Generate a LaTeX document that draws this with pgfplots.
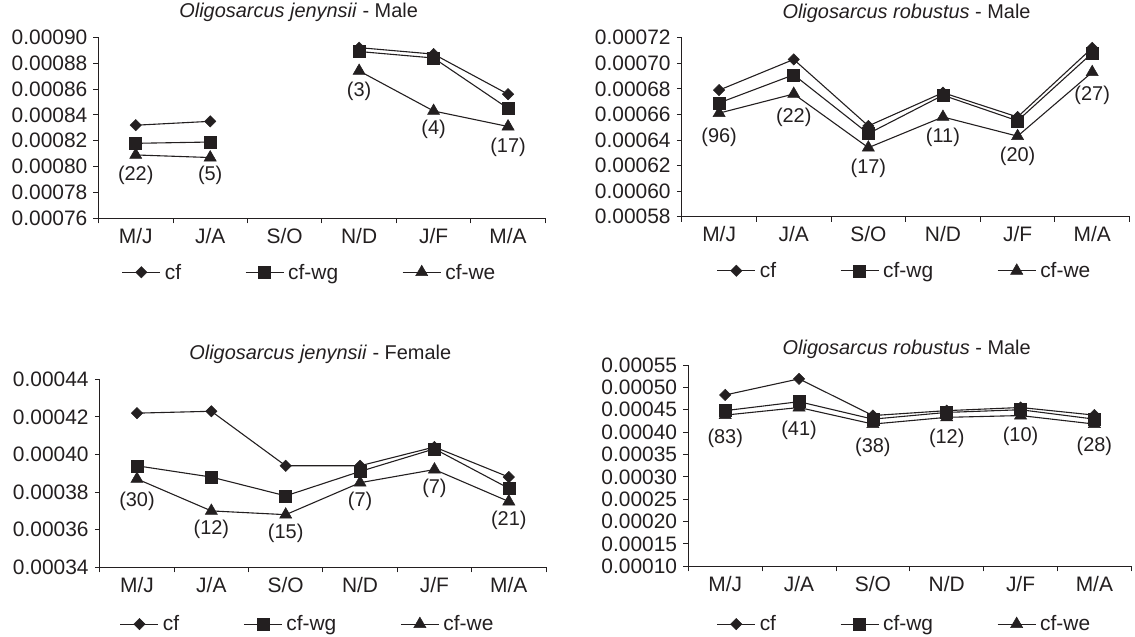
\documentclass[border=0pt]{standalone}
\usepackage{pgfplots}
\pgfplotsset{compat=1.18}
\usepackage{pgfplotstable}
\usepackage{fontspec}
\setmainfont{Liberation Sans}
\definecolor{ink}{RGB}{35,31,32}

\pgfplotstableread{
x cf cfwg cfwe
0 0.000832 0.000818 0.000809
1 0.000835 0.000819 0.000807
2 nan nan nan
3 0.000892 0.000889 0.000874
4 0.000887 0.000884 0.000843
5 0.000856 0.000845 0.000831
}\jenM
\pgfplotstableread{
x cf cfwg cfwe
0 0.000679 0.000669 0.000661
1 0.000703 0.000691 0.000676
2 0.000651 0.000645 0.000634
3 0.000677 0.000675 0.000658
4 0.000658 0.000655 0.000643
5 0.000712 0.000708 0.000693
}\robM
\pgfplotstableread{
x cf cfwg cfwe
0 0.000422 0.000394 0.000387
1 0.000423 0.000388 0.000370
2 0.000394 0.000378 0.000368
3 0.000394 0.000391 0.000385
4 0.000404 0.000403 0.000392
5 0.000388 0.000382 0.000375
}\jenF
\pgfplotstableread{
x cf cfwg cfwe
0 0.000483 0.000448 0.000438
1 0.000519 0.000468 0.000455
2 0.000437 0.000429 0.000418
3 0.000448 0.000444 0.000433
4 0.000455 0.000450 0.000437
5 0.000438 0.000429 0.000418
}\robMb

\pgfplotsset{
  panel/.style={
    scale only axis,
    axis x line=bottom, axis y line=left,
    axis line style={-, ink, line width=0.9bp},
    xmin=-0.5, xmax=5.5,
    xtick={-0.5,0.5,1.5,2.5,3.5,4.5,5.5},
    x tick label as interval,
    xticklabels={M/J,J/A,S/O,N/D,J/F,M/A},
    scaled y ticks=false,
    tick align=outside, major tick length=5bp,
    tick style={ink, line width=0.9bp},
    ticklabel style={font=\fontsize{21}{25}\selectfont, text=ink},
    xticklabel style={inner sep=0pt, anchor=base, yshift=-20bp},
    yticklabel style={inner sep=0pt, anchor=east, xshift=-6bp},
    unbounded coords=jump,
    title style={font=\fontsize{20}{24}\selectfont, text=ink, anchor=base, inner sep=0pt},
    legend columns=3,
    legend style={draw=none, fill=none, inner sep=0pt, outer sep=0pt,
      font=\fontsize{21}{25}\selectfont, text=ink, anchor=west,
      nodes={inner ysep=0pt, inner xsep=4bp},
      /tikz/every even column/.append style={column sep=60bp}},
    legend image code/.code={\draw[mark repeat=2,mark phase=2] plot coordinates {(0bp,0bp) (19bp,0bp) (38bp,0bp)};},
    every axis plot/.append style={ink, line width=1.1bp},
  },
  sCF/.style={mark=square*, mark size=4bp, mark options={rotate=45, solid, fill=ink, draw=ink, line width=0.5bp}},
  sWG/.style={mark=square*, mark size=6bp, mark options={solid, fill=ink, draw=ink, line width=0.5bp}},
  sWE/.style={mark=triangle*, mark size=7bp, mark options={solid, fill=ink, draw=ink, line width=0.5bp}},
}

\newcommand{\lab}[3]{\node[font=\fontsize{20}{24}\selectfont, text=ink, inner sep=0pt] at (axis cs:#1,#2) {(#3)};}

\begin{document}
\begin{tikzpicture}
\useasboundingbox (0,0) rectangle (1135bp,-637bp);

% Panel 1
\begin{axis}[panel, at={(98.5bp,-218.3bp)}, anchor=south west,
  width=446.8bp, height=181bp,
  ymin=0.00076, ymax=0.00090,
  ytick={0.00076,0.00078,0.00080,0.00082,0.00084,0.00086,0.00088,0.00090},
  yticklabels={0.00076,0.00078,0.00080,0.00082,0.00084,0.00086,0.00088,0.00090},
  title={\textit{Oligosarcus jenynsii} - Male},
  title style={at={(0.448,1)}, yshift=14bp},
  legend style={at={(0.052,-0.298)}}]
\addplot[sCF] table[x=x,y=cf]{\jenM};
\addplot[sWG] table[x=x,y=cfwg]{\jenM};
\addplot[sWE] table[x=x,y=cfwe]{\jenM};
\legend{cf,cf-wg,cf-we}
\lab{0}{0.000793}{22}
\lab{1}{0.000793}{5}
\lab{3}{0.0008585}{3}
\lab{4}{0.000829}{4}
\lab{5}{0.000815}{17}
\end{axis}

% Panel 2
\begin{axis}[panel, at={(681.8bp,-216.7bp)}, anchor=south west,
  width=447.7bp, height=179bp,
  ymin=0.00058, ymax=0.00072,
  ytick={0.00058,0.00060,0.00062,0.00064,0.00066,0.00068,0.00070,0.00072},
  yticklabels={0.00058,0.00060,0.00062,0.00064,0.00066,0.00068,0.00070,0.00072},
  title={\textit{Oligosarcus robustus} - Male},
  title style={at={(0.502,1)}, yshift=13bp},
  legend style={at={(0.078,-0.302)}}]
\addplot[sCF] table[x=x,y=cf]{\robM};
\addplot[sWG] table[x=x,y=cfwg]{\robM};
\addplot[sWE] table[x=x,y=cfwe]{\robM};
\legend{cf,cf-wg,cf-we}
\lab{0}{0.000642}{96}
\lab{1}{0.000658}{22}
\lab{2}{0.000618}{17}
\lab{3}{0.000642}{11}
\lab{4}{0.000627}{20}
\lab{5}{0.000675}{27}
\end{axis}

% Panel 3
\begin{axis}[panel, at={(99.8bp,-567.3bp)}, anchor=south west,
  width=446.2bp, height=188bp,
  ymin=0.00034, ymax=0.00044,
  ytick={0.00034,0.00036,0.00038,0.00040,0.00042,0.00044},
  yticklabels={0.00034,0.00036,0.00038,0.00040,0.00042,0.00044},
  title={\textit{Oligosarcus jenynsii} - Female},
  title style={at={(0.494,1)}, yshift=14.3bp},
  legend style={at={(0.045,-0.302)}}]
\addplot[sCF] table[x=x,y=cf]{\jenF};
\addplot[sWG] table[x=x,y=cfwg]{\jenF};
\addplot[sWE] table[x=x,y=cfwe]{\jenF};
\legend{cf,cf-wg,cf-we}
\lab{0}{0.000375}{30}
\lab{1}{0.000360}{12}
\lab{2}{0.000358}{15}
\lab{3}{0.000375}{7}
\lab{4}{0.000382}{7}
\lab{5}{0.000365}{21}
\end{axis}

% Panel 4
\begin{axis}[panel, at={(688.3bp,-566.3bp)}, anchor=south west,
  width=443bp, height=201.3bp,
  ymin=0.00010, ymax=0.00055,
  ytick={0.00010,0.00015,0.00020,0.00025,0.00030,0.00035,0.00040,0.00045,0.00050,0.00055},
  yticklabels={0.00010,0.00015,0.00020,0.00025,0.00030,0.00035,0.00040,0.00045,0.00050,0.00055},
  title={\textit{Oligosarcus robustus} - Male},
  title style={at={(0.493,1)}, yshift=4.3bp},
  legend style={at={(0.064,-0.287)}}]
\addplot[sCF] table[x=x,y=cf]{\robMb};
\addplot[sWG] table[x=x,y=cfwg]{\robMb};
\addplot[sWE] table[x=x,y=cfwe]{\robMb};
\legend{cf,cf-wg,cf-we}
\lab{0}{0.000387}{83}
\lab{1}{0.000405}{41}
\lab{2}{0.000367}{38}
\lab{3}{0.000385}{12}
\lab{4}{0.000390}{10}
\lab{5}{0.000368}{28}
\end{axis}
\end{tikzpicture}
\end{document}
